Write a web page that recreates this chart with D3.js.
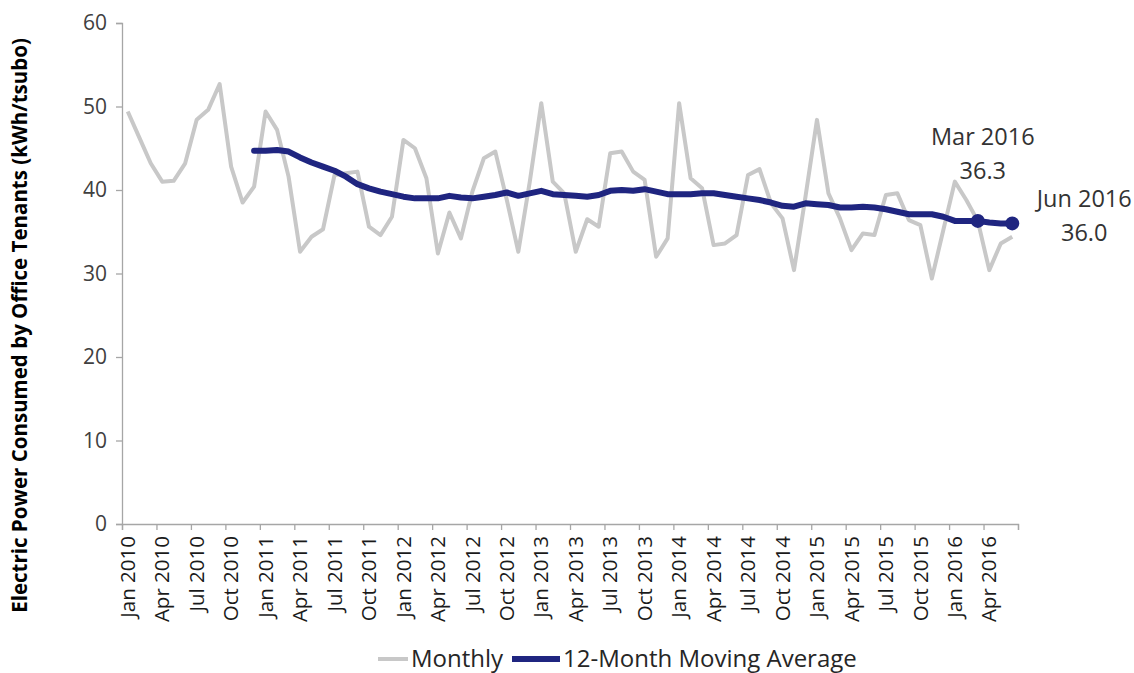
<!DOCTYPE html>
<html>
<head>
<meta charset="utf-8">
<script src="https://cdn.jsdelivr.net/npm/d3@7"></script>
<style>
  body { margin: 0; background: #fff; }
  text { font-family: "Open Sans", sans-serif; }
</style>
</head>
<body>
<div class="chart"></div>
<script>
// month names and years used for the category axis
var monthNames = ["Jan", "Feb", "Mar", "Apr", "May", "Jun", "Jul", "Aug", "Sep", "Oct", "Nov", "Dec"];
var years = [2010, 2011, 2012, 2013, 2014, 2015, 2016];
var lastMonth = "Jun 2016";

// monthly values (kWh/tsubo), Jan 2010 - Jun 2016
var monthly = [
  49.4, 46.3, 43.2, 41.0, 41.1, 43.2, 48.4, 49.6, 52.7, 42.8, 38.5, 40.4,
  49.4, 47.2, 41.6, 32.6, 34.4, 35.3, 41.8, 42.0, 42.2, 35.6, 34.6, 36.8,
  46.0, 45.0, 41.4, 32.4, 37.3, 34.2, 39.8, 43.8, 44.6, 38.8, 32.6, 41.0,
  50.4, 41.0, 39.6, 32.6, 36.5, 35.6, 44.4, 44.6, 42.2, 41.2, 32.0, 34.2,
  50.4, 41.4, 40.2, 33.4, 33.6, 34.6, 41.8, 42.5, 38.4, 36.6, 30.4, 39.2,
  48.4, 39.6, 36.6, 32.8, 34.8, 34.6, 39.4, 39.6, 36.4, 35.8, 29.4, 35.2,
  41.0, 38.8, 36.3, 30.4, 33.6, 34.4
];

// 12-month moving average, Dec 2010 - Jun 2016
var movingStart = "Dec 2010";
var movingAvg = [
  44.7,
  44.7, 44.8, 44.6, 43.9, 43.3, 42.8, 42.3, 41.6, 40.7, 40.2, 39.8, 39.5,
  39.2, 39.0, 39.0, 39.0, 39.3, 39.1, 39.0, 39.2, 39.4, 39.7, 39.3, 39.6,
  39.9, 39.5, 39.4, 39.3, 39.2, 39.4, 39.9, 40.0, 39.9, 40.1, 39.8, 39.5,
  39.5, 39.5, 39.6, 39.6, 39.4, 39.2, 39.0, 38.8, 38.5, 38.1, 38.0, 38.4,
  38.3, 38.2, 37.9, 37.9, 38.0, 37.9, 37.7, 37.4, 37.1, 37.1, 37.1, 36.8,
  36.3, 36.3, 36.3, 36.1, 36.0, 36.0
];

// highlighted points
var callouts = [
  { month: "Mar 2016", value: 36.3 },
  { month: "Jun 2016", value: 36.0 }
];

var yTicks = [0, 10, 20, 30, 40, 50, 60];

// build category labels
var months = [];
years.forEach(function(y) {
  monthNames.forEach(function(m) { months.push(m + " " + y); });
});
months = months.slice(0, months.indexOf(lastMonth) + 1);

var monthlyData = monthly.map(function(v, i) { return { month: months[i], value: v }; });
var startIdx = months.indexOf(movingStart);
var avgData = movingAvg.map(function(v, i) { return { month: months[startIdx + i], value: v }; });

var svgWidth = 1134, svgHeight = 673;
var margin = { top: 23, right: 116, bottom: 149, left: 122 };
var width = svgWidth - margin.left - margin.right;
var height = svgHeight - margin.top - margin.bottom;

var svg = d3.select(".chart").append("svg")
  .attr("width", svgWidth)
  .attr("height", svgHeight);

var chartGroup = svg.append("g")
  .attr("transform", `translate(${margin.left}, ${margin.top})`);

// scales
var xBand = d3.scaleBand().domain(months).range([0, width]).padding(0);
var xIndex = d3.scaleLinear().domain([0, months.length]).range([0, width]);
var yScale = d3.scaleLinear().domain([0, 60]).range([height, 0]);
var xc = function(d) { return xBand(d.month) + xBand.bandwidth() / 2; };

var axisColor = "#a6a6a6";

// y axis
var yAxis = chartGroup.append("g")
  .call(d3.axisLeft(yScale).tickValues(yTicks).tickSize(6).tickPadding(9));
yAxis.select(".domain").attr("stroke", axisColor).attr("stroke-width", 1.3);
yAxis.selectAll(".tick line").attr("stroke", axisColor).attr("stroke-width", 1.3);
yAxis.selectAll(".tick text")
  .attr("fill", "#404040")
  .style("font-size", "21px")
  .style("font-family", "'Open Sans', sans-serif");

// x axis tick marks, every 3 months on category boundaries
var xTickAxis = chartGroup.append("g")
  .attr("transform", `translate(0, ${height})`)
  .call(d3.axisBottom(xIndex).tickValues(d3.range(0, months.length + 1, 3)).tickSize(6).tickFormat(""));
xTickAxis.select(".domain").attr("stroke", axisColor).attr("stroke-width", 1.3);
xTickAxis.selectAll(".tick line").attr("stroke", axisColor).attr("stroke-width", 1.3);

// x axis labels, rotated
var xLabelAxis = chartGroup.append("g")
  .attr("transform", `translate(0, ${height})`)
  .call(d3.axisBottom(xBand).tickValues(months.filter(function(d, i) { return i % 3 === 0; })).tickSize(0));
xLabelAxis.select(".domain").remove();
xLabelAxis.selectAll(".tick text")
  .attr("fill", "#1a1a1a")
  .style("font-size", "20.5px")
  .style("font-family", "'Open Sans', sans-serif")
  .attr("transform", "rotate(-90)")
  .attr("text-anchor", "end")
  .attr("x", -12)
  .attr("y", 0)
  .attr("dy", "0.35em");

// y axis title
svg.append("text")
  .attr("transform", `translate(27, ${margin.top + height / 2 + 52}) rotate(-90)`)
  .attr("text-anchor", "middle")
  .style("font-size", "20.5px")
  .style("font-weight", "bold")
  .attr("fill", "#000")
  .text("Electric Power Consumed by Office Tenants (kWh/tsubo)");

// lines
var line = d3.line()
  .x(xc)
  .y(function(d) { return yScale(d.value); });

chartGroup.append("path")
  .datum(monthlyData)
  .attr("d", line)
  .attr("fill", "none")
  .attr("stroke", "#c8c8c8")
  .attr("stroke-width", 4)
  .attr("stroke-linejoin", "round");

chartGroup.append("path")
  .datum(avgData)
  .attr("d", line)
  .attr("fill", "none")
  .attr("stroke", "#1f2580")
  .attr("stroke-width", 6)
  .attr("stroke-linejoin", "round")
  .attr("stroke-linecap", "round");

// callout markers and labels
chartGroup.selectAll(".callout")
  .data(callouts)
  .enter()
  .append("circle")
  .attr("cx", xc)
  .attr("cy", function(d) { return yScale(d.value); })
  .attr("r", 7)
  .attr("fill", "#1f2580");

var labelOffsets = [{ dx: 5, top: -76 }, { dx: 72, top: -16 }];
callouts.forEach(function(d, i) {
  var t = chartGroup.append("text")
    .attr("text-anchor", "middle")
    .attr("fill", "#333")
    .style("font-size", "23.5px")
    .attr("x", xc(d) + labelOffsets[i].dx)
    .attr("y", yScale(d.value) + labelOffsets[i].top);
  t.append("tspan").text(d.month);
  t.append("tspan")
    .attr("x", xc(d) + labelOffsets[i].dx)
    .attr("dy", 34)
    .text(d.value.toFixed(1));
});

// legend
var legendItems = [
  { label: "Monthly", color: "#c8c8c8", width: 4, x: 378, len: 30 },
  { label: "12-Month Moving Average", color: "#1f2580", width: 6, x: 512, len: 48 }
];
var legend = svg.append("g").attr("transform", "translate(0, 659)");
legendItems.forEach(function(d) {
  legend.append("line")
    .attr("x1", d.x).attr("x2", d.x + d.len)
    .attr("y1", 0).attr("y2", 0)
    .attr("stroke", d.color)
    .attr("stroke-width", d.width);
  legend.append("text")
    .attr("x", d.x + d.len + 3)
    .attr("y", 0)
    .attr("dy", "0.35em")
    .attr("fill", "#262626")
    .style("font-size", "24px")
    .text(d.label);
});
</script>
</body>
</html>
